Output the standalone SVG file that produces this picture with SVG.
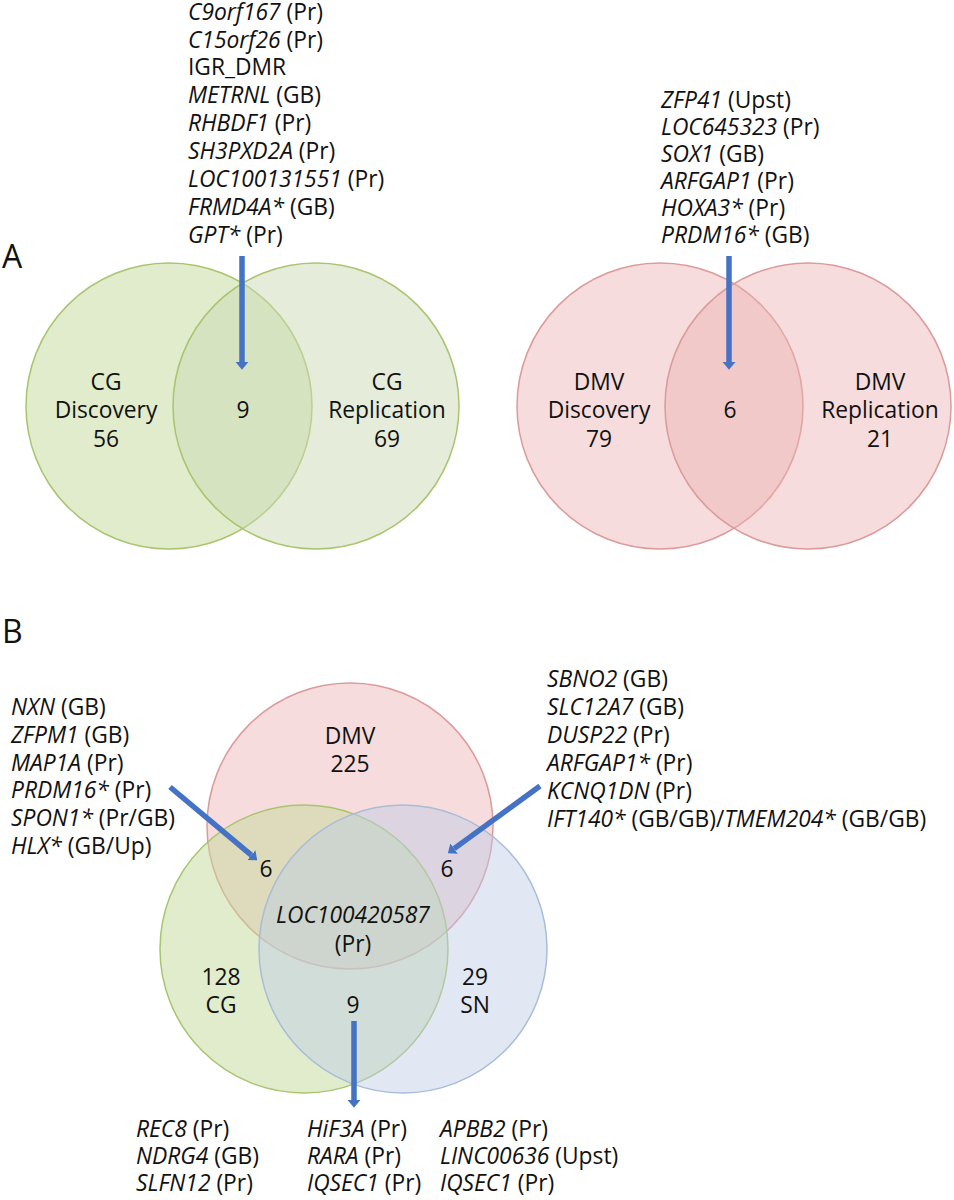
<svg xmlns="http://www.w3.org/2000/svg" width="954" height="1200" viewBox="0 0 954 1200">
<style>
text{font-family:"Open Sans","Noto Sans","Liberation Sans",sans-serif;font-size:22.8px;fill:#111;}
.c{text-anchor:middle;}
.i{font-style:italic;}
.lab{font-size:32px;}
.g{fill:#c4da9a;fill-opacity:.5;stroke:#a9c46e;stroke-width:1.5;}
.g2{fill:#cbdab6;fill-opacity:.5;stroke:#a9c46e;stroke-width:1.5;}
.r{fill:#eab2b2;fill-opacity:.45;stroke:#dc9a9a;stroke-width:1.5;}
.b{fill:#bccde6;fill-opacity:.45;stroke:#a9bcd8;stroke-width:1.5;}
.arr{stroke:#4472c4;stroke-width:5.5;fill:none;marker-end:url(#ah);}
</style>
<defs>
<marker id="ah" viewBox="0 0 6 10" refX="0" refY="5" markerWidth="1.4" markerHeight="2.4" orient="auto" markerUnits="strokeWidth">
<path d="M0,0 L6,5 L0,10 z" fill="#4472c4"/>
</marker>
</defs>
<rect width="954" height="1200" fill="#fff"/>
<text x="2" y="268" class="lab">A</text>
<text x="2" y="643" class="lab">B</text>
<g id="vennA-CG">
<circle class="g" cx="169" cy="406" r="143"/>
<circle class="g2" cx="316" cy="406" r="143"/>
<text class="c" x="106" y="390">CG</text>
<text class="c" x="106" y="418">Discovery</text>
<text class="c" x="106" y="447">56</text>
<text class="c" x="243" y="418">9</text>
<text class="c" x="387" y="390">CG</text>
<text class="c" x="387" y="418">Replication</text>
<text class="c" x="387" y="447">69</text>
</g>
<g id="vennA-DMV">
<circle class="r" cx="660" cy="406" r="143"/>
<circle class="r" cx="808" cy="406" r="143"/>
<text class="c" x="599" y="390">DMV</text>
<text class="c" x="599" y="418">Discovery</text>
<text class="c" x="599" y="447">79</text>
<text class="c" x="730" y="418">6</text>
<text class="c" x="880" y="390">DMV</text>
<text class="c" x="880" y="418">Replication</text>
<text class="c" x="880" y="447">21</text>
</g>
<g id="listA-CG">
<text x="188" y="20"><tspan class="i">C9orf167</tspan> (Pr)</text>
<text x="188" y="48"><tspan class="i">C15orf26</tspan> (Pr)</text>
<text x="188" y="75">IGR_DMR</text>
<text x="188" y="103"><tspan class="i">METRNL</tspan> (GB)</text>
<text x="188" y="131"><tspan class="i">RHBDF1</tspan> (Pr)</text>
<text x="188" y="159"><tspan class="i">SH3PXD2A</tspan> (Pr)</text>
<text x="188" y="187"><tspan class="i">LOC100131551</tspan> (Pr)</text>
<text x="188" y="215"><tspan class="i">FRMD4A*</tspan> (GB)</text>
<text x="188" y="243"><tspan class="i">GPT*</tspan> (Pr)</text>
</g>
<g id="listA-DMV">
<text x="661" y="108"><tspan class="i">ZFP41</tspan> (Upst)</text>
<text x="661" y="135"><tspan class="i">LOC645323</tspan> (Pr)</text>
<text x="661" y="162"><tspan class="i">SOX1</tspan> (GB)</text>
<text x="661" y="189"><tspan class="i">ARFGAP1</tspan> (Pr)</text>
<text x="661" y="216"><tspan class="i">HOXA3*</tspan> (Pr)</text>
<text x="661" y="243"><tspan class="i">PRDM16*</tspan> (GB)</text>
</g>
<g id="vennB">
<circle class="r" cx="350" cy="826" r="143"/>
<circle class="g" cx="304" cy="949" r="144"/>
<circle class="b" cx="403" cy="949" r="144"/>
<text class="c" x="350" y="744">DMV</text>
<text class="c" x="350" y="772">225</text>
<text class="c" x="266" y="877">6</text>
<text class="c" x="447" y="877">6</text>
<text class="c i" x="353" y="923">LOC100420587</text>
<text class="c" x="353" y="952">(Pr)</text>
<text class="c" x="221" y="985">128</text>
<text class="c" x="221" y="1013">CG</text>
<text class="c" x="475" y="985">29</text>
<text class="c" x="475" y="1013">SN</text>
<text class="c" x="353" y="1013">9</text>
</g>
<g id="listB-left">
<text x="11" y="715"><tspan class="i">NXN</tspan> (GB)</text>
<text x="11" y="743"><tspan class="i">ZFPM1</tspan> (GB)</text>
<text x="11" y="771"><tspan class="i">MAP1A</tspan> (Pr)</text>
<text x="11" y="798"><tspan class="i">PRDM16*</tspan> (Pr)</text>
<text x="11" y="826"><tspan class="i">SPON1*</tspan> (Pr/GB)</text>
<text x="11" y="854"><tspan class="i">HLX*</tspan> (GB/Up)</text>
</g>
<g id="listB-right">
<text x="547" y="687"><tspan class="i">SBNO2</tspan> (GB)</text>
<text x="547" y="715"><tspan class="i">SLC12A7</tspan> (GB)</text>
<text x="547" y="743"><tspan class="i">DUSP22</tspan> (Pr)</text>
<text x="547" y="771"><tspan class="i">ARFGAP1*</tspan> (Pr)</text>
<text x="547" y="799"><tspan class="i">KCNQ1DN</tspan> (Pr)</text>
<text x="547" y="827"><tspan class="i">IFT140*</tspan> (GB/GB)/<tspan class="i">TMEM204*</tspan> (GB/GB)</text>
</g>
<g id="listB-bottom">
<text x="136" y="1137"><tspan class="i">REC8</tspan> (Pr)</text>
<text x="136" y="1164"><tspan class="i">NDRG4</tspan> (GB)</text>
<text x="136" y="1191"><tspan class="i">SLFN12</tspan> (Pr)</text>
<text x="307" y="1137"><tspan class="i">HiF3A</tspan> (Pr)</text>
<text x="307" y="1164"><tspan class="i">RARA</tspan> (Pr)</text>
<text x="307" y="1191"><tspan class="i">IQSEC1</tspan> (Pr)</text>
<text x="440" y="1137"><tspan class="i">APBB2</tspan> (Pr)</text>
<text x="440" y="1164"><tspan class="i">LINC00636</tspan> (Upst)</text>
<text x="440" y="1191"><tspan class="i">IQSEC1</tspan> (Pr)</text>
</g>
<g id="connectors">
<line class="arr" x1="242" y1="256" x2="242" y2="362"/>
<line class="arr" x1="729" y1="256" x2="729" y2="362"/>
<line class="arr" x1="170" y1="787" x2="251.3" y2="855.2"/>
<line class="arr" x1="540" y1="786" x2="454.1" y2="848.6"/>
<line class="arr" x1="354" y1="1021" x2="354" y2="1100"/>
</g>
</svg>
